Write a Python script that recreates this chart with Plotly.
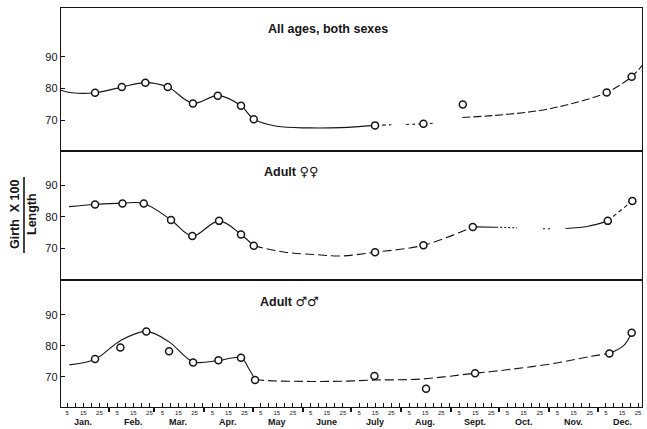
import plotly.graph_objects as go

# ---- calendar (day-of-year axis) ----
MONTHS = ["Jan.", "Feb.", "Mar.", "Apr.", "May", "June",
          "July", "Aug.", "Sept.", "Oct.", "Nov.", "Dec."]
MONTH_DAYS = [31, 28, 31, 30, 31, 30, 31, 31, 30, 31, 30, 31]
DAY_TICKS = [5, 10, 15, 20, 25, 30]
DAY_LABELS = ["5", "", "15", "", "25", ""]

# ---- All ages, both sexes ----
all_obs_x = [22.3, 38.9, 53.5, 67.4, 83.0, 98.4, 112.8, 120.7, 195.9, 225.9, 250.3, 339.5, 355.0]
all_obs_y = [78.6, 80.4, 81.8, 80.4, 75.2, 77.7, 74.5, 70.2, 68.3, 68.8, 74.9, 78.7, 83.7]
all_curve = [
    ([1.2, 8, 22.3, 38.9, 53.5, 67.4, 83.0, 98.4, 112.8, 120.7, 135, 155, 175, 195.9],
     [79.4, 78.6, 78.6, 80.4, 81.8, 80.4, 75.3, 77.7, 74.5, 70.3, 68.0, 67.5, 67.6, 68.3], "solid"),
    ([195.9, 206], [68.3, 68.5], "4px,3px"),
    ([215, 225.9, 233], [68.6, 68.8, 69.0], "3px,3px"),
    ([250, 269, 298, 318.7, 339.5, 355.0, 361.4],
     [70.8, 71.4, 73.0, 75.3, 78.7, 83.7, 87.2], "8px,3px"),
]

# ---- Adult females ----
fem_obs_x = [22.3, 39.3, 52.5, 69.4, 82.6, 99.2, 112.8, 120.7, 195.9, 225.9, 256.5, 340.2, 355.4]
fem_obs_y = [83.9, 84.2, 84.2, 79.0, 73.9, 78.7, 74.4, 70.8, 68.8, 71.0, 76.8, 78.7, 85.0]
fem_curve = [
    ([6.2, 22.3, 39.3, 52.5, 69.4, 82.6, 99.2, 112.8, 120.7],
     [83.2, 83.9, 84.3, 84.2, 79.0, 73.9, 78.7, 74.4, 70.8], "solid"),
    ([120.7, 140, 160, 175, 195.9, 225.9, 256.5],
     [70.8, 68.8, 68.0, 67.6, 68.8, 71.0, 76.8], "9px,4px"),
    ([256.5, 271], [76.8, 76.7], "solid"),
    ([271, 284], [76.7, 76.5], "2px,2px"),
    ([300, 305], [76.2, 76.2], "2px,3px"),
    ([314, 328, 340.2], [76.3, 77.0, 78.7], "solid"),
    ([340.2, 355.4], [78.7, 85.0], "4px,3px"),
]

# ---- Adult males ----
mal_obs_x = [22.3, 38.0, 54.1, 68.2, 83.1, 98.8, 112.8, 121.5, 195.5, 227.5, 257.9, 341.2, 355.0]
mal_obs_y = [75.7, 79.4, 84.6, 78.2, 74.6, 75.3, 76.1, 68.9, 70.2, 66.1, 71.1, 77.5, 84.2]
mal_curve = [
    ([6.4, 22.3, 38.0, 54.1, 68.0, 83.1, 98.8, 112.8, 117.5, 121.5],
     [73.8, 75.6, 81.6, 84.6, 81.3, 74.8, 75.2, 76.1, 72.7, 69.0], "solid"),
    ([121.5, 135, 174, 195.5, 223.8, 257.9, 277.5, 308.5, 329.2, 341.2],
     [69.0, 68.6, 68.5, 68.9, 69.2, 71.1, 72.2, 74.4, 76.5, 77.5], "9px,4px"),
    ([341.2, 350, 355.0], [77.5, 80.0, 84.2], "solid"),
]

SYM = '<span style="font-family:DejaVu Sans;font-size:13px;font-weight:normal">%s</span>'
PANELS = [
    dict(title="<b>All ages, both sexes</b>", ox=all_obs_x, oy=all_obs_y, curve=all_curve,
         yrange=[60.2, 105.4], domain=[0.6416, 1.0], tx=0.4596, ty=0.9466),
    dict(title="<b>Adult</b> " + SYM % "\u2640\u2640", ox=fem_obs_x, oy=fem_obs_y,
         curve=fem_curve, yrange=[60.0, 100.8], domain=[0.3183, 0.6416], tx=0.396, ty=0.5897),
    dict(title="<b>Adult</b> " + SYM % "\u2642\u2642", ox=mal_obs_x, oy=mal_obs_y,
         curve=mal_curve, yrange=[60.2, 101.2], domain=[0.0, 0.3183], tx=0.394, ty=0.2632),
]

INK = "#151515"
FONT = "Liberation Sans, Arial, DejaVu Sans, sans-serif"
X_RANGE = [1.2, 361.4]

fig = go.Figure()
layout = dict(
    width=647, height=429,
    margin=dict(l=61, r=5, t=8, b=22),
    paper_bgcolor="white", plot_bgcolor="white",
    showlegend=False,
    font=dict(family=FONT, color=INK),
    annotations=[], shapes=[],
)

# month start offsets and tick positions along the day axis
month_start = []
acc = 0
for n in MONTH_DAYS:
    month_start.append(acc)
    acc += n
day_vals, day_text = [], []
for start, n in zip(month_start, MONTH_DAYS):
    for d, lab in zip(DAY_TICKS, DAY_LABELS):
        if d <= n:
            day_vals.append(start + d)
            day_text.append(lab)
month_mid = [start + 15 for start in month_start]

for i, p in enumerate(PANELS):
    k = "" if i == 0 else str(i + 1)
    xa, ya = "x" + k, "y" + k
    for cx, cy, dash in p["curve"]:
        fig.add_trace(go.Scatter(
            x=cx, y=cy, mode="lines", xaxis=xa, yaxis=ya,
            line=dict(color=INK, width=1.1, shape="spline", smoothing=1.0, dash=dash),
            hoverinfo="skip"))
    fig.add_trace(go.Scatter(
        x=p["ox"], y=p["oy"], mode="markers", xaxis=xa, yaxis=ya,
        marker=dict(symbol="circle", size=7, color="white",
                    line=dict(color=INK, width=1.5))))

    xax = dict(domain=[0, 1], range=X_RANGE, anchor=ya, showline=True, mirror=True,
               linecolor=INK, linewidth=1.4, showgrid=False, zeroline=False,
               showticklabels=False, ticks="")
    if i == 2:
        xax.update(
            tickmode="array", tickvals=day_vals, ticktext=day_text,
            ticks="inside", ticklen=4, tickwidth=1, tickcolor=INK,
            showticklabels=True, tickfont=dict(size=6, family=FONT, color=INK),
            minor=dict(tickmode="array", tickvals=month_start[1:],
                       ticks="outside", ticklen=4, tickwidth=1.6, tickcolor=INK),
        )
    else:
        xax.update(matches="x3")
    yax = dict(domain=p["domain"], range=p["yrange"], anchor=xa, showline=True,
               mirror=True, linecolor=INK, linewidth=1.4, showgrid=False,
               zeroline=False, tickmode="array", tickvals=[70, 80, 90],
               ticks="inside", ticklen=4, tickwidth=1.2, tickcolor=INK,
               tickfont=dict(size=11, family=FONT, color=INK))
    layout["xaxis" + k] = xax
    layout["yaxis" + k] = yax

    layout["annotations"].append(dict(
        text=p["title"], xref="paper", yref="paper",
        x=p["tx"], y=p["ty"], xanchor="center", yanchor="middle",
        showarrow=False, font=dict(size=12.5, family=FONT, color=INK)))

# month names under the day ticks
for name, mid in zip(MONTHS, month_mid):
    layout["annotations"].append(dict(
        text="<b>%s</b>" % name, xref="x3", yref="paper", x=mid, y=0,
        xanchor="center", yanchor="top", yshift=-8, showarrow=False,
        font=dict(size=9, family=FONT, color=INK)))

# y-axis title written as a fraction
layout["annotations"].append(dict(
    text="<b>Girth  X 100</b>", xref="paper", yref="paper", x=0, y=0.4837,
    xshift=-46, xanchor="center", yanchor="middle", textangle=-90,
    showarrow=False, font=dict(size=12.5, family=FONT, color=INK)))
layout["annotations"].append(dict(
    text="<b>Length</b>", xref="paper", yref="paper", x=0, y=0.4837,
    xshift=-29, xanchor="center", yanchor="middle", textangle=-90,
    showarrow=False, font=dict(size=12.5, family=FONT, color=INK)))
layout["shapes"].append(dict(
    type="line", xref="paper", yref="paper", x0=-0.0637, x1=-0.0637,
    y0=0.386, y1=0.5764, line=dict(color=INK, width=1.6)))

fig.update_layout(**layout)
fig.write_html("out.html")
